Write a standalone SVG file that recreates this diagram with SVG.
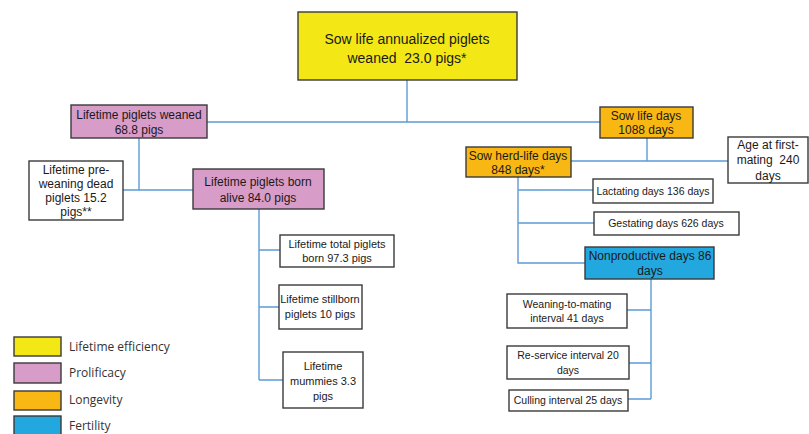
<svg xmlns="http://www.w3.org/2000/svg" width="809" height="434" viewBox="0 0 809 434">
<style>
.box{stroke:#3a3a3a;stroke-width:1.4}
.w{fill:#ffffff}.y{fill:#F3E815}.p{fill:#D89CC8}.o{fill:#F8B712}.b{fill:#23A7DF}
text{font-family:"Liberation Sans",Arial,sans-serif;fill:#1a1a1a;text-anchor:middle}
.t14{font-size:14px}.t12{font-size:12px}.t11{font-size:11px}.t10{font-size:10.5px}
.pre{white-space:pre}
.leg{font-family:"Open Sans","Liberation Sans",sans-serif;font-size:12px;text-anchor:start;fill:#333}
.c{fill:none;stroke:#5E9BD6;stroke-width:1.4}
</style>
<rect width="809" height="434" fill="#ffffff"/>
<g id="connectors">
<path class="c" d="M407,80 V122 M207,122 H600"/>
<path class="c" d="M139,138 V190 M123,190 H193"/>
<path class="c" d="M259,209 V380 M259,250 H280 M259,307 H279 M259,380 H283"/>
<path class="c" d="M647,138 V161 M571,161 H728"/>
<path class="c" d="M518,177 V263 H585 M518,190 H593 M518,223 H594"/>
<path class="c" d="M651,279 V399 M627,310 H651 M629,363 H651 M628,399 H651"/>
</g>
<g id="n-top"><rect class="box y" x="298" y="12" width="219" height="68"/>
<text class="t14" x="407" y="44">Sow life annualized piglets</text>
<text class="t14 pre" x="407" y="63">weaned  23.0 pigs*</text></g>
<g id="n-weaned"><rect class="box p" x="71" y="105" width="136" height="33"/>
<text class="t12" x="139" y="119">Lifetime piglets weaned</text>
<text class="t12" x="139" y="134">68.8 pigs</text></g>
<g id="n-predead"><rect class="box w" x="29" y="161" width="94" height="59"/>
<text class="t12" x="76" y="174">Lifetime pre-</text>
<text class="t12" x="76" y="188">weaning dead</text>
<text class="t12" x="76" y="202">piglets 15.2</text>
<text class="t12" x="76" y="216">pigs**</text></g>
<g id="n-bornalive"><rect class="box p" x="193" y="169" width="131" height="40"/>
<text class="t12" x="258" y="186">Lifetime piglets born</text>
<text class="t12" x="258" y="202">alive 84.0 pigs</text></g>
<g id="n-total"><rect class="box w" x="280" y="235" width="114" height="32"/>
<text class="t11" x="337" y="248">Lifetime total piglets</text>
<text class="t11" x="337" y="262">born 97.3 pigs</text></g>
<g id="n-stillborn"><rect class="box w" x="279" y="285" width="83" height="44"/>
<text class="t11" x="320" y="303">Lifetime stillborn</text>
<text class="t11" x="320" y="318">piglets 10 pigs</text></g>
<g id="n-mummies"><rect class="box w" x="283" y="352" width="80" height="56"/>
<text class="t11" x="323" y="370">Lifetime</text>
<text class="t11" x="323" y="385">mummies 3.3</text>
<text class="t11" x="323" y="400">pigs</text></g>
<g id="n-sowlife"><rect class="box o" x="600" y="107" width="93" height="31"/>
<text class="t12" x="646" y="120">Sow life days</text>
<text class="t12" x="646" y="134">1088 days</text></g>
<g id="n-herdlife"><rect class="box o" x="466" y="147" width="105" height="30"/>
<text class="t12" x="518" y="160">Sow herd-life days</text>
<text class="t12" x="518" y="174">848 days*</text></g>
<g id="n-age"><rect class="box w" x="728" y="137" width="80" height="46"/>
<text class="t12" x="768" y="149">Age at first-</text>
<text class="t12 pre" x="768" y="164">mating  240</text>
<text class="t12" x="768" y="180">days</text></g>
<g id="n-lact"><rect class="box w" x="593" y="179" width="120" height="24"/>
<text class="t10" x="653" y="195">Lactating days 136 days</text></g>
<g id="n-gest"><rect class="box w" x="594" y="212" width="145" height="23"/>
<text class="t10" x="666" y="227">Gestating days 626 days</text></g>
<g id="n-nonprod"><rect class="box b" x="585" y="247" width="129" height="32"/>
<text class="t12" x="650" y="260">Nonproductive days 86</text>
<text class="t12" x="650" y="275">days</text></g>
<g id="n-wean"><rect class="box w" x="507" y="294" width="120" height="34"/>
<text class="t10" x="567" y="308">Weaning-to-mating</text>
<text class="t10" x="567" y="322">interval 41 days</text></g>
<g id="n-reserv"><rect class="box w" x="507" y="346" width="122" height="33"/>
<text class="t10" x="568" y="359">Re-service interval 20</text>
<text class="t10" x="568" y="374">days</text></g>
<g id="n-cull"><rect class="box w" x="509" y="390" width="119" height="21"/>
<text class="t10" x="568" y="404">Culling interval 25 days</text></g>
<g id="legend">
<rect class="box y" x="14" y="337" width="47" height="19"/>
<text class="leg" x="69" y="351">Lifetime efficiency</text>
<rect class="box p" x="14" y="363" width="47" height="20"/>
<text class="leg" x="69" y="377">Prolificacy</text>
<rect class="box o" x="14" y="391" width="47" height="19"/>
<text class="leg" x="69" y="404">Longevity</text>
<rect class="box b" x="14" y="416" width="47" height="20"/>
<text class="leg" x="69" y="430">Fertility</text>
</g>
</svg>
